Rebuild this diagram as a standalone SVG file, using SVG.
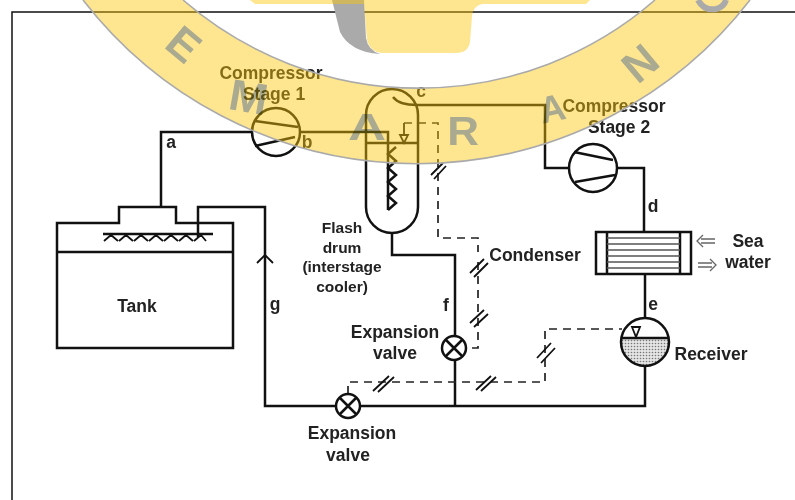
<svg xmlns="http://www.w3.org/2000/svg" width="795" height="500" viewBox="0 0 795 500">
<style>
text{font-family:"Liberation Sans",Arial,sans-serif;font-weight:700;font-size:17.5px;fill:#222;text-anchor:middle}
text.s{font-size:15.5px}
.l{fill:none;stroke:#111;stroke-width:2.5}
.t{fill:none;stroke:#111;stroke-width:1.8}
.d{fill:none;stroke:#222;stroke-width:1.7;stroke-dasharray:8 6}
.n{fill:#fff;stroke:#111;stroke-width:2.5}
.a{fill:none;stroke:#666;stroke-width:1.3}
.b{fill:#fdc607;fill-opacity:.45}
.e{fill:none;stroke:#aaa;stroke-width:1.6}
text.w{fill:#aabdff;font-size:44px;mix-blend-mode:multiply}
</style>
<defs>
<pattern id="stipple" width="3" height="3" patternUnits="userSpaceOnUse">
<rect width="3" height="3" fill="#e4e4e4"/><circle cx="1.5" cy="1.5" r=".8" fill="#777"/>
</pattern>
</defs>
<rect width="795" height="500" fill="#fff"/>
<path d="M12 500V12H795" fill="none" stroke="#111" stroke-width="1.5"/>
<g id="connectors">
<path class="l" d="M161 207V132H252"/>
<path class="l" d="M300 132H388V210"/>
<path class="l" d="M393 97Q399 105 417 105H545V168H570"/>
<path class="l" d="M617 168H644V232"/>
<path class="l" d="M645 275V318"/>
<path class="l" d="M392 233V255H455V406"/>
<path class="l" d="M645 366V406H265V207H198V237"/>
<path class="t" d="M257 263L265 255L273 263"/>
<path class="d" d="M404 123H438V238H478V252"/>
<path class="d" d="M478 262V348H467"/>
<path class="d" d="M348 394V382H545V329H622"/>
<path class="t" d="M431 175L443 163M434 179L446 166"/>
<path class="t" d="M470 273L484 259M474 277L488 263"/>
<path class="t" d="M470 323L484 310M474 327L488 314"/>
<path class="t" d="M373 391L389 376M378 392L394 377"/>
<path class="t" d="M476 390L491 376M481 391L496 377"/>
<path class="t" d="M537 358L551 343M541 363L555 348"/>
</g>
<g id="tank">
<path class="l" d="M57 223H119V207H176V223H233V348H57ZM57 252H233"/>
<path class="l" d="M103 234H213"/>
<path class="t" d="M104 241L111 235L118 241M119 241L126 235L133 241M134 241L141 235L148 241M149 241L156 235L163 241M164 241L171 235L178 241M179 241L186 235L193 241M194 241L201 235L206 241"/>
<text x="137" y="312">Tank</text>
</g>
<g id="compressor1">
<circle class="n" cx="276" cy="132" r="24"/>
<path class="l" d="M255 121L298 127M255 146L295 137"/>
<text x="271" y="79">Compressor</text><text x="274" y="100">Stage 1</text>
</g>
<g id="flashdrum">
<path class="l" d="M366 143V115A26 26 0 0 1 418 115V207A26 26 0 0 1 366 207V143H418"/>
<path class="l" d="M396 147L388 154L396 161L388 168L396 175L388 182L396 189L388 196L396 203L388 210"/>
<path class="t" d="M404 123V135M400 135H408L404 143Z"/>
<text class="s" x="342" y="233">Flash</text><text class="s" x="342" y="253">drum</text><text class="s" x="342" y="272">(interstage</text><text class="s" x="342" y="292">cooler)</text>
</g>
<g id="compressor2">
<circle class="n" cx="593" cy="168" r="24"/>
<path class="l" d="M574 152L613 160M575 182L615 175"/>
<text x="614" y="112">Compressor</text><text x="619" y="133">Stage 2</text>
</g>
<g id="condenser">
<rect class="n" x="596" y="232" width="95" height="42"/>
<path class="l" d="M607 232V274M680 232V274"/>
<path d="M607 238H680M607 244H680M607 250H680M607 256H680M607 262H680M607 268H680" stroke="#555" stroke-width="1.6"/>
<text x="535" y="261">Condenser</text>
<text x="748" y="247">Sea</text><text x="748" y="268">water</text>
<path class="a" d="M715 239H701M715 243H701M703 235L697 241L703 247"/>
<path class="a" d="M698 263H712M698 267H712M710 259L716 265L710 271"/>
</g>
<g id="receiver">
<path d="M621.300 338H668.700A24 24 0 1 1 621.300 338Z" fill="url(#stipple)"/>
<circle class="l" cx="645" cy="342" r="24"/>
<path class="l" d="M622 338H668"/>
<path class="t" d="M632 327H640L636 337Z"/>
<text x="711" y="360">Receiver</text>
</g>
<g id="valve1">
<circle class="n" cx="454" cy="348" r="12"/><path class="l" d="M446 340L462 356M462 340L446 356"/>
<text x="395" y="338">Expansion</text><text x="395" y="359">valve</text>
</g>
<g id="valve2">
<circle class="n" cx="348" cy="406" r="12"/><path class="l" d="M340 398L356 414M356 398L340 414"/>
<text x="352" y="439">Expansion</text><text x="348" y="461">valve</text>
</g>
<g id="labels">
<text x="171" y="148">a</text><text x="307" y="148">b</text><text x="421" y="97">c</text><text x="653" y="212">d</text><text x="653" y="310">e</text><text x="446" y="311">f</text><text x="275" y="310">g</text>
</g>
<g id="watermark">
<path d="M332 0H364L366 38Q368 50 380 54Q350 52 340 32Z" fill="#aaa"/>
<path class="b" d="M83 0A421.600 421.600 0 0 0 750 0H655A360 360 0 0 1 183 0Z"/>
<path class="b" d="M250 0H590L586 4H482Q473 6 472 16L470 42Q468 53 456 53H382Q370 52 367 40L364 4H255Z"/>
<path class="e" d="M83 0A421.600 421.600 0 0 0 750 0M655 0A360 360 0 0 1 183 0"/>
<path d="M698 0Q704 11 716 9Q724 7 726 0" fill="none" stroke="#aaa" stroke-width="6"/>
<text class="w" transform="translate(174 56) rotate(40)" font-size="42">E</text>
<text class="w" transform="translate(246 112) rotate(10) scale(1.05 1)">M</text>
<text class="w" transform="translate(367 140) scale(1.2 .85)">A</text>
<text class="w" transform="translate(463 145) scale(1 .93)">R</text>
<text class="w" transform="translate(555 121) rotate(-12) scale(.8 .85)">A</text>
<text class="w" transform="translate(650 75) rotate(-40)">N</text>
</g>
</svg>
